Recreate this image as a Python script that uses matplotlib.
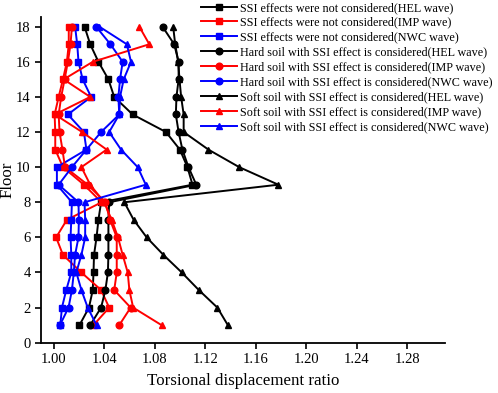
import numpy as np
import matplotlib
matplotlib.use("Agg")
import matplotlib.pyplot as plt

plt.rcParams['font.family'] = ['Liberation Serif', 'DejaVu Serif']

floors = list(range(1, 19))

# torsional displacement ratio, floor 1 -> floor 18
no_hel = [1.0205, 1.028, 1.031, 1.0316, 1.032, 1.034, 1.0355, 1.0376, 1.110, 1.106,
          1.100, 1.089, 1.0626, 1.048, 1.0434, 1.0355, 1.029, 1.0245]
no_imp = [1.0316, 1.044, 1.0376, 1.022, 1.0074, 1.002, 1.0105, 1.038, 1.024, 1.0074,
          1.0013, 1.0013, 1.0008, 1.004, 1.0074, 1.0105, 1.012, 1.012]
no_nwc = [1.0053, 1.0066, 1.010, 1.014, 1.014, 1.0134, 1.014, 1.0145, 1.0026, 1.0026,
          1.026, 1.024, 1.0113, 1.0297, 1.023, 1.0197, 1.0187, 1.017]
hard_hel = [1.029, 1.0376, 1.041, 1.043, 1.0434, 1.0434, 1.0434, 1.044, 1.113, 1.1068,
            1.102, 1.099, 1.0968, 1.0973, 1.099, 1.099, 1.0955, 1.0863]
hard_imp = [1.052, 1.061, 1.048, 1.050, 1.050, 1.050, 1.0447, 1.041, 1.027, 1.009,
            1.007, 1.0047, 1.004, 1.006, 1.0087, 1.0113, 1.0134, 1.0145]
hard_nwc = [1.005, 1.0118, 1.0145, 1.016, 1.017, 1.0197, 1.020, 1.0197, 1.004, 1.0145,
            1.026, 1.0376, 1.052, 1.0513, 1.0526, 1.0547, 1.045, 1.0337]
soft_hel = [1.138, 1.1297, 1.115, 1.1015, 1.087, 1.0737, 1.0634, 1.056, 1.178, 1.147,
            1.1226, 1.103, 1.103, 1.101, 1.0997, 1.0987, 1.0963, 1.0947]
soft_imp = [1.0855, 1.063, 1.060, 1.0587, 1.0547, 1.051, 1.046, 1.040, 1.029, 1.022,
            1.042, 1.0226, 1.001, 1.029, 1.008, 1.031, 1.0758, 1.0679]
soft_nwc = [1.034, 1.027, 1.022, 1.018, 1.022, 1.025, 1.025, 1.0245, 1.073, 1.0666,
            1.0534, 1.044, 1.052, 1.0526, 1.0555, 1.0613, 1.058, 1.0363]

series = [
    (no_hel, 'black', 's', "SSI effects were not considered(HEL wave)"),
    (no_imp, 'red', 's', "SSI effects were not considered(IMP wave)"),
    (no_nwc, 'blue', 's', "SSI effects were not considered(NWC wave)"),
    (hard_hel, 'black', 'o', "Hard soil with SSI effect is considered(HEL wave)"),
    (hard_imp, 'red', 'o', "Hard soil with SSI effect is considered(IMP wave)"),
    (hard_nwc, 'blue', 'o', "Hard soil with SSI effect is considered(NWC wave)"),
    (soft_hel, 'black', '^', "Soft soil with SSI effect is considered(HEL wave)"),
    (soft_imp, 'red', '^', "Soft soil with SSI effect is considered(IMP wave)"),
    (soft_nwc, 'blue', '^', "Soft soil with SSI effect is considered(NWC wave)"),
]

fig = plt.figure(figsize=(4.98, 3.93), dpi=100)
ax = fig.add_axes([0.0823, 0.128, 0.8113, 0.8295])

for vals, col, mk, lab in series:
    ax.plot(vals, floors, color=col, marker=mk, markersize=4.8, linewidth=1.4, label=lab)

ax.set_xlim(0.99, 1.31)
ax.set_ylim(0, 18.57)
ax.set_xticks(np.arange(1.00, 1.29, 0.04))
ax.set_xticklabels([f"{t:.2f}" for t in np.arange(1.00, 1.29, 0.04)])
ax.set_yticks(range(0, 19, 2))
ax.spines['top'].set_visible(False)
ax.spines['right'].set_visible(False)
ax.spines['left'].set_linewidth(1.3)
ax.spines['bottom'].set_linewidth(1.3)
ax.tick_params(direction='out', length=4, width=1.2, labelsize=10.5, pad=3.5)

ax.set_xlabel("Torsional displacement ratio", fontsize=12.2)
ax.set_ylabel("Floor", fontsize=12.2)
ax.xaxis.set_label_coords(0.5, -0.093)
ax.yaxis.set_label_coords(-0.062, 0.5)

ax.legend(loc='upper right', bbox_to_anchor=(1.135, 1.068), frameon=False, fontsize=8.75,
          handlelength=3.0, handletextpad=0.2, labelspacing=0.24, borderpad=0.1)

fig.savefig("out.png", dpi=100)
